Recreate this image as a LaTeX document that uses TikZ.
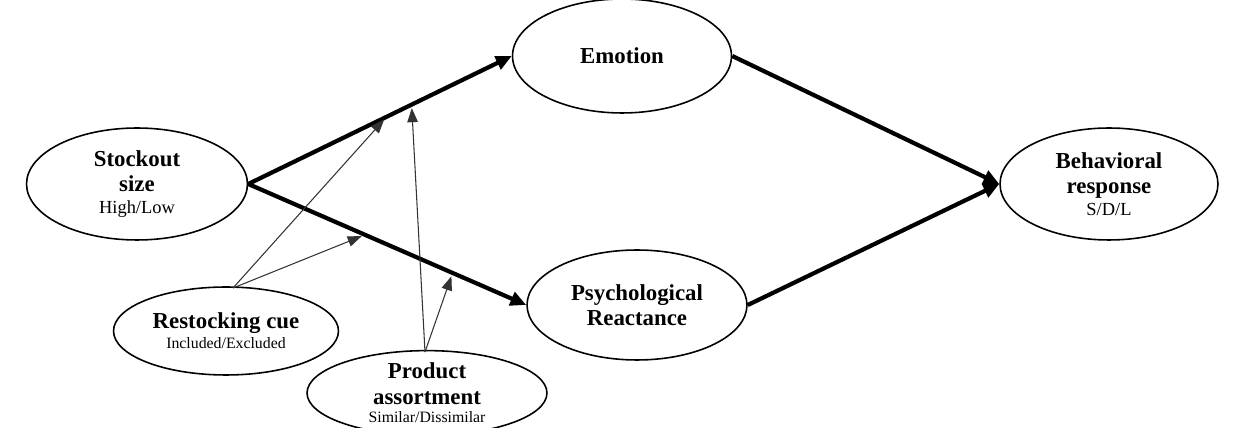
\documentclass[tikz,border=0pt]{standalone}
\usepackage{fontspec}
\setmainfont{Liberation Serif}
\usetikzlibrary{shapes.geometric,arrows.meta}

\begin{document}
\begin{tikzpicture}[x=0.02cm, y=-0.02cm,
  construct/.style={ellipse, draw, line width=0.9pt, inner sep=0pt, align=center,
    font=\fontsize{13}{14.5}\selectfont\bfseries},
  mainpath/.style={line width=2.4pt, -{Triangle[length=9pt, width=8pt]}},
  modpath/.style={line width=0.6pt, black!80, -{Triangle[length=8pt, width=6pt]}}]
  \clip (0,0) rectangle (1238,428);
  \node[construct, minimum width=4.42cm, minimum height=2.24cm] (stock) at (137,184)
    {Stockout\\size\\[-2pt]{\fontsize{10.5}{12}\selectfont\mdseries High/Low}};
  \node[construct, minimum width=4.38cm, minimum height=2.28cm] (emo) at (622,56) {Emotion};
  \node[construct, minimum width=4.4cm, minimum height=2.2cm] (react) at (637,305)
    {Psychological\\Reactance};
  \node[construct, minimum width=4.36cm, minimum height=2.24cm] (behav) at (1109,184)
    {Behavioral\\response\\[-2pt]{\fontsize{10.5}{12}\selectfont\mdseries S/D/L}};
  \node[construct, minimum width=4.5cm, minimum height=1.76cm] (cue) at (226,331)
    {Restocking cue\\[-3pt]{\fontsize{9}{11}\selectfont\mdseries Included/Excluded}};
  \node[construct, minimum width=4.8cm, minimum height=1.66cm] (assort) at (427,393)
    {Product\\assortment\\[-4pt]{\fontsize{9}{11}\selectfont\mdseries Similar/Dissimilar}};
  % main paths
  \draw[mainpath] (stock.east) -- (emo.west)
    coordinate[pos=0.525] (up1) coordinate[pos=0.62] (up2);
  \draw[mainpath] (stock.east) -- (react.west)
    coordinate[pos=0.42] (lo1) coordinate[pos=0.735] (lo2);
  \draw[mainpath] (emo.east) -- (behav.west);
  \draw[mainpath] (react.east) -- (behav.west);
  % moderators
  \coordinate (cuetop) at (233,288);
  \coordinate (assorttop) at (425,352);
  \draw[modpath, shorten >=2pt] (cuetop) -- (up1);
  \draw[modpath, shorten >=2pt] (cuetop) -- (lo1);
  \draw[modpath, shorten >=2pt] (assorttop) -- (up2);
  \draw[modpath, shorten >=2pt] (assorttop) -- (lo2);
\end{tikzpicture}
\end{document}
